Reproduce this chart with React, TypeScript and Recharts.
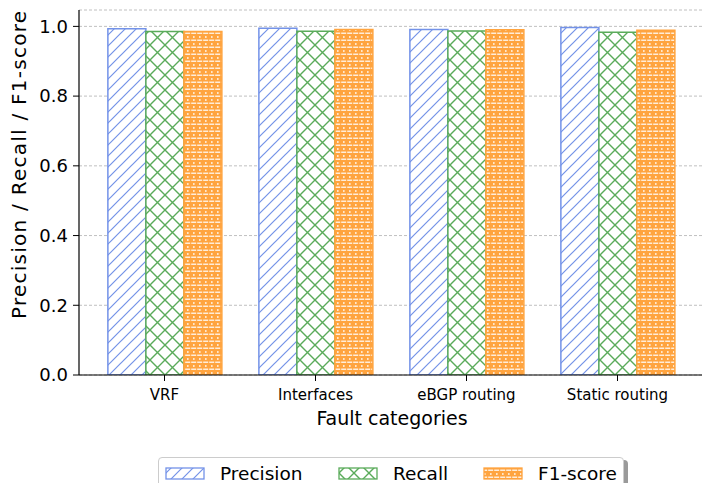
import React from "react";
import {
  Bar,
  BarChart,
  CartesianGrid,
  XAxis,
  YAxis,
} from "recharts";

const categories = ["VRF", "Interfaces", "eBGP routing", "Static routing"];
const precision = [0.993, 0.995, 0.991, 0.997];
const recall = [0.985, 0.986, 0.987, 0.983];
const f1 = [0.985, 0.991, 0.99, 0.989];
const yTicks = [0, 0.2, 0.4, 0.6, 0.8, 1.0];
const seriesNames = ["Precision", "Recall", "F1-score"];

const data = categories.map((name, i) => ({
  name,
  precision: precision[i],
  recall: recall[i],
  f1: f1[i],
}));

const FONT = "'DejaVu Sans', sans-serif";
const BLUE = "#7392e8";
const GREEN = "#5aab5a";
const ORANGE = "#ffa43f";

function Patterns({ suffix }: { suffix: string }) {
  return (
    <defs>
      <pattern id={`hatchBlue${suffix}`} patternUnits="userSpaceOnUse" width="11" height="11">
        <rect width="11" height="11" fill="#fff" />
        <path d="M-1,12 L12,-1 M-3,3 L3,-3 M8,14 L14,8" stroke={BLUE} strokeWidth="1.2" />
      </pattern>
      <pattern id={`hatchGreen${suffix}`} patternUnits="userSpaceOnUse" width="15" height="15">
        <rect width="15" height="15" fill="#fff" />
        <path d="M0,0 L15,15 M15,0 L0,15" stroke={GREEN} strokeWidth="1.4" />
      </pattern>
      <pattern id={`hatchOrange${suffix}`} patternUnits="userSpaceOnUse" width="6" height="7">
        <rect width="6" height="7" fill={ORANGE} />
        <rect x="0" y="4.6" width="6" height="1.2" fill="#fff" />
        <rect x="1" y="1.2" width="1.6" height="1.6" fill="#fff" opacity="0.9" />
        <rect x="4.2" y="4" width="1" height="2.2" fill={ORANGE} />
      </pattern>
    </defs>
  );
}

function YLabel() {
  return (
    <text
      x={0}
      y={0}
      transform="translate(19,165) rotate(-90)"
      textAnchor="middle"
      dominantBaseline="central"
      fontSize={20}
      fontFamily={FONT}
      fill="#000"
      textLength={308}
      lengthAdjust="spacing"
    >
      Precision / Recall / F1-score
    </text>
  );
}

function XLabel() {
  return (
    <text
      x={392}
      y={418}
      textAnchor="middle"
      dominantBaseline="central"
      fontSize={19}
      fontFamily={FONT}
      fill="#000"
    >
      Fault categories
    </text>
  );
}

const legendItems = [
  { name: seriesNames[0], fill: "hatchBlueL", stroke: BLUE, box: 7, text: 61 },
  { name: seriesNames[1], fill: "hatchGreenL", stroke: GREEN, box: 180, text: 234 },
  { name: seriesNames[2], fill: "hatchOrangeL", stroke: ORANGE, box: 325, text: 379 },
];

function LegendBox() {
  return (
    <div
      style={{
        position: "absolute",
        left: 158,
        top: 457,
        width: 464,
        height: 40,
        border: "1px solid #cccccc",
        borderRadius: 4,
        background: "#fff",
        boxShadow: "4px 3px 0 #9a9a9a",
        fontFamily: FONT,
      }}
    >
      <svg width={464} height={40} style={{ position: "absolute", left: 0, top: 0 }}>
        <Patterns suffix="L" />
        {legendItems.map((it) => (
          <g key={it.name}>
            <rect
              x={it.box}
              y={10}
              width={38}
              height={11}
              fill={`url(#${it.fill})`}
              stroke={it.stroke}
              strokeWidth={1.3}
            />
            <text x={it.text} y={15.5} dominantBaseline="central" fontSize={18.5} fontFamily={FONT} fill="#000">
              {it.name}
            </text>
          </g>
        ))}
      </svg>
    </div>
  );
}

export default function App() {
  return (
    <div style={{ position: "absolute", left: 0, top: 0, width: 705, height: 483, background: "#fff", overflow: "hidden" }}>
      <BarChart
        width={705}
        height={483}
        data={data}
        margin={{ top: 10, right: 3, left: 0, bottom: 0 }}
        barCategoryGap="12.5%"
        barGap={0}
      >
        <Patterns suffix="" />
        <CartesianGrid vertical={false} stroke="#b0b0b0" strokeDasharray="3 2" strokeWidth={0.8} />
        <XAxis
          dataKey="name"
          height={108}
          padding={{ left: 10, right: 9 }}
          stroke="#000"
          tickLine={{ stroke: "#000", strokeWidth: 1 }}
          axisLine={{ stroke: "#000", strokeWidth: 1.2 }}
          tickSize={6}
          tickMargin={8}
          tick={{ fill: "#000", fontSize: 15, fontFamily: FONT }}
          interval={0}
          label={<XLabel />}
        />
        <XAxis
          xAxisId="top"
          orientation="top"
          dataKey="name"
          height={0}
          tick={false}
          tickLine={false}
          axisLine={{ stroke: "#000", strokeWidth: 1.2 }}
        />
        <YAxis
          width={79}
          domain={[0, 1.047]}
          ticks={yTicks}
          tickFormatter={(v: number) => v.toFixed(1)}
          stroke="#000"
          tickLine={{ stroke: "#000", strokeWidth: 1 }}
          axisLine={{ stroke: "#000", strokeWidth: 1.2 }}
          tickSize={6}
          tickMargin={5}
          tick={{ fill: "#000", fontSize: 18, fontFamily: FONT }}
          allowDataOverflow
          label={<YLabel />}
        />
        <YAxis
          yAxisId="right"
          orientation="right"
          width={0}
          domain={[0, 1.047]}
          tick={false}
          tickLine={false}
          axisLine={{ stroke: "#000", strokeWidth: 1.2 }}
        />
        <Bar dataKey="precision" name={seriesNames[0]} fill="url(#hatchBlue)" stroke={BLUE} strokeWidth={1.5} isAnimationActive={false} />
        <Bar dataKey="recall" name={seriesNames[1]} fill="url(#hatchGreen)" stroke={GREEN} strokeWidth={1.5} isAnimationActive={false} />
        <Bar dataKey="f1" name={seriesNames[2]} fill="url(#hatchOrange)" stroke={ORANGE} strokeWidth={1.5} isAnimationActive={false} />
      </BarChart>
      <LegendBox />
    </div>
  );
}
